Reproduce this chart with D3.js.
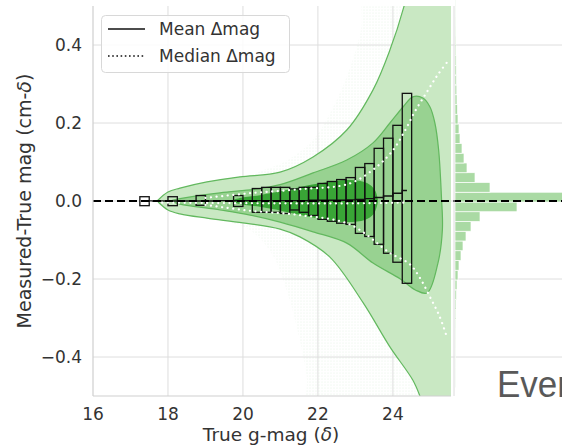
<!DOCTYPE html>
<html>
<head>
<meta charset="utf-8">
<script src="https://cdn.jsdelivr.net/npm/d3@7"></script>
<style>
body { margin: 0; background: #fff; }
text { font-family: "DejaVu Sans", sans-serif; fill: #333; }
</style>
</head>
<body>
<div id="wrapper"></div>
<script>
/* data */
const xTicks = [16, 18, 20, 22, 24];
const yTicks = [-0.4, -0.2, 0.0, 0.2, 0.4];

// outer (lightest) contour, upper and lower edges [mag, dmag]
const outerUpper = [[17.71,0],[18.0,0.023],[18.32,0.033],[19.04,0.049],[19.92,0.062],[20.99,0.074],[21.87,0.113],[22.77,0.182],[23.47,0.285],[23.92,0.387],[24.29,0.497],[24.51,0.59]];
const outerLower = [[17.71,0],[18.0,-0.023],[18.32,-0.033],[19.04,-0.044],[20.0,-0.056],[20.99,-0.072],[21.52,-0.092],[22.32,-0.144],[23.2,-0.26],[23.92,-0.374],[24.53,-0.459],[24.72,-0.5],[24.85,-0.54]];
// middle contour
const midUpper = [[18.05,0],[18.32,0.006],[19.39,0.021],[20.3,0.03],[20.99,0.042],[21.87,0.072],[22.77,0.105],[23.47,0.149],[23.92,0.2],[24.27,0.241],[24.53,0.267],[24.8,0.264],[24.99,0.241],[25.12,0.2],[25.22,0.131],[25.3,0]];
const midLower = [[18.05,0],[18.32,-0.008],[19.39,-0.023],[20.19,-0.036],[20.99,-0.054],[21.87,-0.079],[22.77,-0.108],[23.47,-0.159],[24.2,-0.2],[24.6,-0.228],[24.91,-0.236],[25.2,-0.16],[25.32,-0.074],[25.3,0]];
// dense core
const coreUpper = [[19.65,0],[19.92,0.008],[20.45,0.015],[21.07,0.026],[21.97,0.044],[22.85,0.054],[23.31,0.046],[23.52,0.028],[23.6,0.003]];
const coreLower = [[19.65,0],[19.92,-0.008],[20.45,-0.015],[21.07,-0.026],[21.97,-0.044],[22.72,-0.054],[23.25,-0.049],[23.49,-0.033],[23.6,-0.003]];
// scatter envelope outside the contours
const scatterUpper = [[19.3,0.03],[20.3,0.07],[21.2,0.105],[21.9,0.16],[22.4,0.24],[22.85,0.34],[23.15,0.44],[23.3,0.55]];
const scatterLower = [[19.3,-0.035],[20.2,-0.075],[20.8,-0.14],[21.2,-0.24],[21.5,-0.35],[21.7,-0.45],[21.8,-0.55]];

// binned boxes
const boxCenters = [17.375,18.125,18.875,19.875,20.375,20.625,20.875,21.125,21.375,21.625,21.875,22.125,22.375,22.625,22.875,23.125,23.375,23.625,23.875,24.125,24.375];
const boxTop    = [0.011,0.011,0.014,0.014,0.032,0.035,0.035,0.035,0.031,0.035,0.035,0.045,0.050,0.055,0.060,0.086,0.096,0.135,0.161,0.194,0.276];
const boxBottom = [-0.012,-0.012,-0.011,-0.014,-0.029,-0.029,-0.029,-0.032,-0.023,-0.029,-0.037,-0.047,-0.052,-0.057,-0.060,-0.083,-0.091,-0.111,-0.134,-0.157,-0.211];
const meanVals  = [0,0,0,0.001,0.001,0.001,0.001,0.001,0.001,0.001,0.002,0.002,0.002,0.002,0.003,0.004,0.006,0.009,0.013,0.02,0.027];
const boxWidth = 0.25;

// white dotted curves
const medianLine = [[17.4,-0.004],[19,-0.005],[21,-0.006],[23,-0.006],[24.4,-0.004]];
const upperDotted = [[19.0,0.008],[20.19,0.02],[21.5,0.03],[22.85,0.045],[23.57,0.088],[24.0,0.13],[24.32,0.18],[24.59,0.23],[24.91,0.28],[25.17,0.32],[25.44,0.355]];
const lowerDotted = [[19.0,-0.01],[20.19,-0.025],[21.5,-0.036],[22.85,-0.06],[23.92,-0.133],[24.45,-0.162],[24.72,-0.197],[24.99,-0.246],[25.25,-0.297],[25.44,-0.349]];

// marginal histogram of dmag
const histStart = -0.4775, histStep = 0.025;
const histCounts = [0.3,0.3,0.35,0.4,0.45,0.5,0.6,0.8,1.0,1.5,2,3,4,6,8,11,16,25,62,140,35,20,12,9,7,5,4,3,2.5,2,1.8,1.5,1.3,1.1,0.9,0.8,0.6,0.5,0.4,0.3];

/* dimensions */
let dimensions = {
  width: 562,
  height: 445,
  left: 93, right: 451, top: 6, bottom: 396,
  histLeft: 455
};

const svg = d3.select("#wrapper").append("svg")
  .attr("width", dimensions.width)
  .attr("height", dimensions.height);

const defs = svg.append("defs");
defs.append("clipPath").attr("id", "main-clip")
  .append("rect")
  .attr("x", dimensions.left).attr("y", dimensions.top)
  .attr("width", dimensions.right - dimensions.left)
  .attr("height", dimensions.bottom - dimensions.top);
const pat = defs.append("pattern").attr("id", "dots")
  .attr("width", 3).attr("height", 3).attr("patternUnits", "userSpaceOnUse");
pat.append("circle").attr("cx", 1).attr("cy", 1).attr("r", 0.6)
  .attr("fill", "#86c880").attr("opacity", 0.22);

/* scales */
const xScale = d3.scaleLinear().domain([16, 25.55]).range([dimensions.left, dimensions.right]);
const yScale = d3.scaleLinear().domain([-0.5, 0.5]).range([dimensions.bottom, dimensions.top]);
const histScale = d3.scaleLinear().domain([0, 107]).range([dimensions.histLeft, 562]);

/* grid */
const grid = svg.append("g");
grid.selectAll(".hg").data(yTicks).enter().append("line")
  .attr("x1", dimensions.left).attr("x2", dimensions.width)
  .attr("y1", d => yScale(d)).attr("y2", d => yScale(d))
  .attr("stroke", "#dedede").attr("stroke-width", 1);
grid.selectAll(".vg").data(xTicks.slice(1)).enter().append("line")
  .attr("x1", d => xScale(d)).attr("x2", d => xScale(d))
  .attr("y1", dimensions.top).attr("y2", dimensions.bottom)
  .attr("stroke", "#dedede").attr("stroke-width", 1);

/* contours */
const line = d3.line().x(d => xScale(d[0])).y(d => yScale(d[1])).curve(d3.curveCatmullRom);
const closedShape = d3.line().x(d => xScale(d[0])).y(d => yScale(d[1])).curve(d3.curveCatmullRomClosed);

const plot = svg.append("g").attr("clip-path", "url(#main-clip)");

// faint scatter of single stars outside the contours
plot.append("path")
  .attr("d", closedShape(scatterUpper.concat([[25.7,0.6],[25.7,-0.6]], scatterLower.slice().reverse())))
  .attr("fill", "url(#dots)");

plot.append("path")
  .attr("d", line(outerUpper) + "L" + xScale(25.8) + "," + yScale(0.62) + "L" + xScale(25.8) + "," + yScale(-0.62)
        + "L" + line(outerLower.slice().reverse()).slice(1) + "Z")
  .attr("fill", "#c9e8c3");
plot.append("path").attr("d", line(outerUpper)).attr("fill", "none").attr("stroke", "#62b85e").attr("stroke-width", 1.2);
plot.append("path").attr("d", line(outerLower)).attr("fill", "none").attr("stroke", "#62b85e").attr("stroke-width", 1.2);

plot.append("path")
  .attr("d", line(midUpper) + "L" + line(midLower.slice().reverse()).slice(1) + "Z")
  .attr("fill", "#98d291")
  .attr("stroke", "#62b85e").attr("stroke-width", 1.2);

plot.append("path")
  .attr("d", line(coreUpper) + "L" + line(coreLower.slice().reverse()).slice(1) + "Z")
  .attr("fill", "#39a536");

/* boxes */
plot.selectAll(".box").data(boxCenters).enter().append("rect")
  .attr("x", d => xScale(d - boxWidth / 2))
  .attr("width", xScale(boxWidth) - xScale(0))
  .attr("y", (d, i) => yScale(boxTop[i]))
  .attr("height", (d, i) => yScale(boxBottom[i]) - yScale(boxTop[i]))
  .attr("fill", "none")
  .attr("stroke", "#111")
  .attr("stroke-width", 1.3);

/* mean and median lines */
const meanLine = d3.line().x(d => xScale(d)).y((d, i) => yScale(meanVals[i])).curve(d3.curveStep);
plot.append("path").attr("d", meanLine(boxCenters))
  .attr("fill", "none").attr("stroke", "#111").attr("stroke-width", 1.4);

[medianLine, upperDotted, lowerDotted].forEach(pts => {
  plot.append("path").attr("d", line(pts))
    .attr("fill", "none").attr("stroke", "#fff").attr("stroke-width", 2.2)
    .attr("stroke-linecap", "round").attr("stroke-dasharray", "0.1,5.5");
});

/* marginal histogram */
const hist = svg.append("g");
hist.selectAll("rect").data(histCounts).enter().append("rect")
  .attr("x", dimensions.histLeft)
  .attr("y", (d, i) => yScale(histStart + (i + 1) * histStep))
  .attr("height", (d, i) => yScale(histStart + i * histStep) - yScale(histStart + (i + 1) * histStep))
  .attr("width", d => histScale(d) - histScale(0))
  .attr("fill", "#aadaa4")
  .attr("stroke", "#fff").attr("stroke-width", 0.7);

/* zero line */
svg.append("line")
  .attr("x1", dimensions.left).attr("x2", dimensions.width)
  .attr("y1", yScale(0)).attr("y2", yScale(0))
  .attr("stroke", "#000").attr("stroke-width", 2.2)
  .attr("stroke-dasharray", "8,4");

/* spines */
svg.append("line").attr("x1", dimensions.left).attr("x2", dimensions.left)
  .attr("y1", dimensions.top).attr("y2", dimensions.bottom).attr("stroke", "#cfcfcf").attr("stroke-width", 1.2);
svg.append("line").attr("x1", dimensions.left).attr("x2", dimensions.right)
  .attr("y1", dimensions.bottom).attr("y2", dimensions.bottom).attr("stroke", "#cfcfcf").attr("stroke-width", 1.2);
svg.append("line").attr("x1", dimensions.histLeft - 1).attr("x2", dimensions.histLeft - 1)
  .attr("y1", dimensions.top).attr("y2", dimensions.bottom).attr("stroke", "#dcdcdc").attr("stroke-width", 1);

/* tick labels */
svg.append("g").selectAll("text").data(yTicks).enter().append("text")
  .attr("x", 82).attr("y", d => yScale(d) + 6)
  .attr("text-anchor", "end").style("font-size", "17px")
  .text(d => d3.format(".1f")(d).replace("-", "\u2212"));
svg.append("g").selectAll("text").data(xTicks).enter().append("text")
  .attr("x", d => xScale(d)).attr("y", 420)
  .attr("text-anchor", "middle").style("font-size", "17px")
  .text(d => d);

/* axis labels */
const xl = svg.append("text").attr("x", 271).attr("y", 441)
  .attr("text-anchor", "middle").style("font-size", "18.5px");
xl.append("tspan").text("True g-mag (");
xl.append("tspan").style("font-style", "italic").text("δ");
xl.append("tspan").text(")");

const yl = svg.append("text")
  .attr("transform", "translate(31,201) rotate(-90)")
  .attr("text-anchor", "middle").style("font-size", "19px");
yl.append("tspan").text("Measured-True mag (cm-");
yl.append("tspan").style("font-style", "italic").text("δ");
yl.append("tspan").text(")");

/* legend */
const legend = svg.append("g");
legend.append("rect").attr("x", 101.5).attr("y", 15.5).attr("width", 188).attr("height", 57)
  .attr("rx", 4).attr("fill", "#fff").attr("fill-opacity", 0.85)
  .attr("stroke", "#d8d8d8").attr("stroke-width", 1);
legend.append("line").attr("x1", 108).attr("x2", 145).attr("y1", 29).attr("y2", 29)
  .attr("stroke", "#111").attr("stroke-width", 1.5);
legend.append("line").attr("x1", 108).attr("x2", 145).attr("y1", 56).attr("y2", 56)
  .attr("stroke", "#111").attr("stroke-width", 1.6).attr("stroke-dasharray", "1.6,2.6");
legend.append("text").attr("x", 159).attr("y", 35).style("font-size", "17px").text("Mean Δmag");
legend.append("text").attr("x", 159).attr("y", 62).style("font-size", "17px").text("Median Δmag");

/* slide text peeking in from the right */
svg.append("text").attr("x", 497).attr("y", 397)
  .attr("textLength", 72).attr("lengthAdjust", "spacingAndGlyphs")
  .style("font-family", "'Liberation Sans', Arial, sans-serif")
  .style("font-size", "37px").style("fill", "#595959")
  .text("Ever");
</script>
</body>
</html>
